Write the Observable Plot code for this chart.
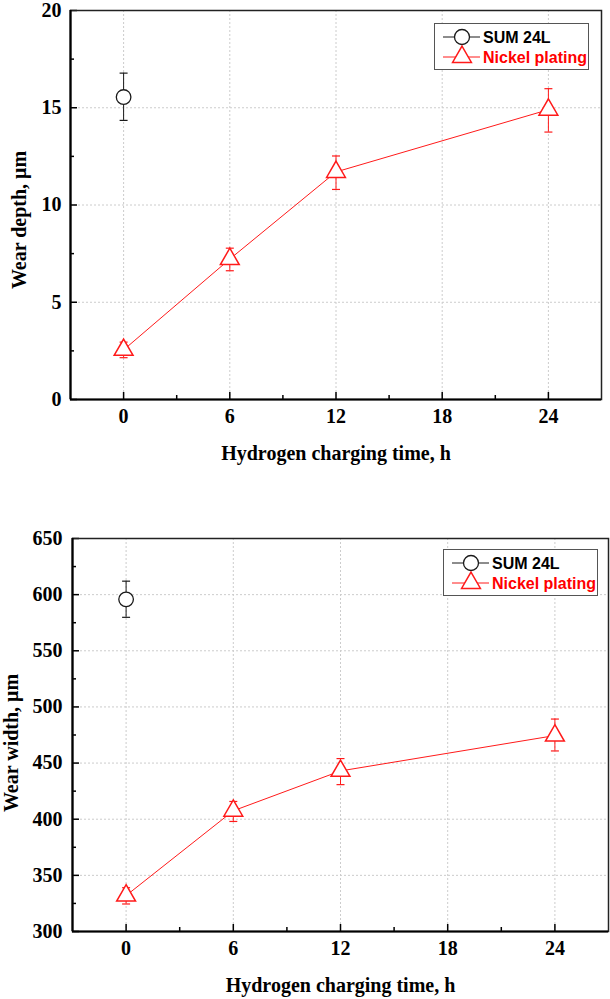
<!DOCTYPE html>
<html>
<head>
<meta charset="utf-8">
<script src="https://cdn.jsdelivr.net/npm/d3@7"></script>
<script src="https://cdn.jsdelivr.net/npm/@observablehq/plot@0.6"></script>
<style>
  body { margin: 0; background: #fff; }
  #wrap { position: relative; width: 610px; height: 999px; overflow: hidden; }
  .panel { position: absolute; left: 0; }
  .legend { position: absolute; background: #fff; border: 1px solid #555; }
  svg { overflow: visible; }
</style>
</head>
<body>
<div id="wrap"></div>
<script>
// ---------- data ----------
const hours = [0, 6, 12, 24];
const sumHours = [0];
const xTicks = [0, 6, 12, 18, 24];
const xMinorTicks = [3, 9, 15, 21];
const xDomain = [-3, 27];

const seriesNames = ["SUM 24L", "Nickel plating"];
const xTitle = "Hydrogen charging time, h";
const yTitles = ["Wear depth, μm", "Wear width, μm"];

// top panel: wear depth
const depthSum = [15.55];
const depthSumLow = [14.35];
const depthSumHigh = [16.78];
const depthNickel = [2.55, 7.22, 11.7, 14.9];
const depthNickelLow = [2.15, 6.62, 10.8, 13.75];
const depthNickelHigh = [2.95, 7.78, 12.52, 15.98];
const depthTicks = [0, 5, 10, 15, 20];
const depthMinorTicks = [2.5, 7.5, 12.5, 17.5];

// bottom panel: wear width
const widthSum = [595.8];
const widthSumLow = [579.8];
const widthSumHigh = [612];
const widthNickel = [332, 407.5, 443, 474.5];
const widthNickelLow = [324.5, 398, 430.8, 460.8];
const widthNickelHigh = [339, 415.8, 454, 489.2];
const widthTicks = [300, 350, 400, 450, 500, 550, 600, 650];
const widthMinorTicks = [325, 375, 425, 475, 525, 575, 625];

// ---------- styling ----------
const RED = "#ff1a1a";
const BLACK = "#1a1a1a";
const SERIF = '"Liberation Serif", "Times New Roman", serif';
const SANS = '"Liberation Sans", Arial, sans-serif';

const capSymbol = {
  draw(context) { context.moveTo(-4, 0); context.lineTo(4, 0); }
};

function makePanel(cfg) {
  const sum = sumHours.map((h, i) => ({h, v: cfg.sum[i], lo: cfg.sumLo[i], hi: cfg.sumHi[i]}));
  const ni = hours.map((h, i) => ({h, v: cfg.ni[i], lo: cfg.niLo[i], hi: cfg.niHi[i]}));
  const yDomain = [cfg.yTicks[0], cfg.yTicks[cfg.yTicks.length - 1]];
  const gridStyle = {stroke: "#cccccc", strokeOpacity: 1, strokeWidth: 1, strokeDasharray: "2,2"};
  return Plot.plot({
    width: 610,
    height: cfg.height,
    marginTop: cfg.mt, marginBottom: cfg.mb, marginLeft: cfg.ml, marginRight: cfg.mr,
    x: {domain: xDomain},
    y: {domain: yDomain},
    style: {fontFamily: SERIF, fontSize: "20px", fontWeight: "bold", color: "#000", background: "transparent", overflow: "visible"},
    marks: [
      Plot.gridX(xTicks, gridStyle),
      Plot.gridY(cfg.yTicks, gridStyle),
      Plot.axisX(xTicks, {tickSize: -7, tickFormat: () => "", label: null, strokeWidth: 1.5}),
      Plot.axisX(xMinorTicks, {tickSize: -4, tickFormat: () => "", label: null, strokeWidth: 1.5}),
      Plot.axisY(cfg.yTicks, {tickSize: -7, tickFormat: () => "", label: null, strokeWidth: 1.5}),
      Plot.axisY(cfg.yMinor, {tickSize: -4, tickFormat: () => "", label: null, strokeWidth: 1.5}),
      Plot.axisX(xTicks, {tickSize: 0, tickPadding: 9, label: null, fontSize: 20, fontWeight: "bold"}),
      Plot.axisY(cfg.yTicks, {tickSize: 0, tickPadding: cfg.yPad, label: null, fontSize: 20, fontWeight: "bold"}),
      Plot.frame({stroke: "#222", strokeWidth: 1.5}),
      Plot.ruleX([xDomain[0]], {stroke: "#000", strokeWidth: 2.2}),
      Plot.ruleY([yDomain[0]], {stroke: "#000", strokeWidth: 2.2}),
      Plot.line(ni, {x: "h", y: "v", stroke: RED, strokeWidth: 1}),
      Plot.ruleX(ni, {x: "h", y1: "lo", y2: "hi", stroke: RED, strokeWidth: 1}),
      Plot.dot(ni, {x: "h", y: "lo", symbol: capSymbol, r: 4, stroke: RED, strokeWidth: 1.2}),
      Plot.dot(ni, {x: "h", y: "hi", symbol: capSymbol, r: 4, stroke: RED, strokeWidth: 1.2}),
      Plot.ruleX(sum, {x: "h", y1: "lo", y2: "hi", stroke: BLACK, strokeWidth: 1}),
      Plot.dot(sum, {x: "h", y: "lo", symbol: capSymbol, r: 4, stroke: BLACK, strokeWidth: 1.2}),
      Plot.dot(sum, {x: "h", y: "hi", symbol: capSymbol, r: 4, stroke: BLACK, strokeWidth: 1.2}),
      Plot.dot(sum, {x: "h", y: "v", r: 7.3, fill: "white", stroke: BLACK, strokeWidth: 1.3}),
      Plot.dot(ni, {x: "h", y: "v", symbol: "triangle", r: 7, fill: "white", stroke: RED, strokeWidth: 1.5}),
      Plot.text([xTitle], {frameAnchor: "bottom", dy: 54, text: d => d, textAnchor: "middle", lineAnchor: "middle", fontFamily: SERIF, fontSize: 20, fontWeight: "bold", fill: "#000"}),
      Plot.text([cfg.yTitle], {frameAnchor: "left", dx: cfg.titleDx, dy: cfg.titleDy, rotate: -90, text: d => d, textAnchor: "middle", lineAnchor: "middle", fontFamily: SERIF, fontSize: 20, fontWeight: "bold", fill: "#000"})
    ]
  });
}

function makeLegend(left, topPos) {
  const div = document.createElement("div");
  div.className = "legend";
  div.style.left = left + "px";
  div.style.top = topPos + "px";
  div.style.width = "153px";
  div.style.height = "45px";
  const svg = d3.create("svg").attr("width", 153).attr("height", 45);
  const rows = [
    {name: seriesNames[0], color: BLACK, text: "#000", y: 13, sym: "circle"},
    {name: seriesNames[1], color: RED, text: "#ff0000", y: 33, sym: "triangle"}
  ];
  for (const r of rows) {
    svg.append("line").attr("x1", 8).attr("x2", 45).attr("y1", r.y).attr("y2", r.y)
      .attr("stroke", r.color).attr("stroke-width", 1);
    if (r.sym === "circle") {
      svg.append("circle").attr("cx", 27).attr("cy", r.y).attr("r", 7.5)
        .attr("fill", "white").attr("stroke", r.color).attr("stroke-width", 1.3);
    } else {
      svg.append("path").attr("transform", `translate(27,${r.y})`)
        .attr("d", d3.symbol(d3.symbolTriangle, 7 * 7 * Math.PI)())
        .attr("fill", "white").attr("stroke", r.color).attr("stroke-width", 1.5);
    }
    svg.append("text").attr("x", 48).attr("y", r.y + 6)
      .attr("font-family", SANS).attr("font-size", 16).attr("font-weight", "bold")
      .attr("fill", r.text).text(r.name);
  }
  div.appendChild(svg.node());
  return div;
}

const wrap = document.getElementById("wrap");

const topChart = makePanel({
  height: 480, mt: 10, mb: 81, ml: 70, mr: 9,
  sum: depthSum, sumLo: depthSumLow, sumHi: depthSumHigh,
  ni: depthNickel, niLo: depthNickelLow, niHi: depthNickelHigh,
  yTicks: depthTicks, yMinor: depthMinorTicks, yPad: 9,
  yTitle: yTitles[0], titleDx: -51, titleDy: 15
});
const topDiv = document.createElement("div");
topDiv.className = "panel";
topDiv.style.top = "0px";
topDiv.appendChild(topChart);
topDiv.appendChild(makeLegend(434, 23));
wrap.appendChild(topDiv);

const bottomChart = makePanel({
  height: 519, mt: 58, mb: 68, ml: 72, mr: 2,
  sum: widthSum, sumLo: widthSumLow, sumHi: widthSumHigh,
  ni: widthNickel, niLo: widthNickelLow, niHi: widthNickelHigh,
  yTicks: widthTicks, yMinor: widthMinorTicks, yPad: 10,
  yTitle: yTitles[1], titleDx: -61, titleDy: 8
});
const botDiv = document.createElement("div");
botDiv.className = "panel";
botDiv.style.top = "480px";
botDiv.appendChild(bottomChart);
botDiv.appendChild(makeLegend(443, 69));
wrap.appendChild(botDiv);
</script>
</body>
</html>
